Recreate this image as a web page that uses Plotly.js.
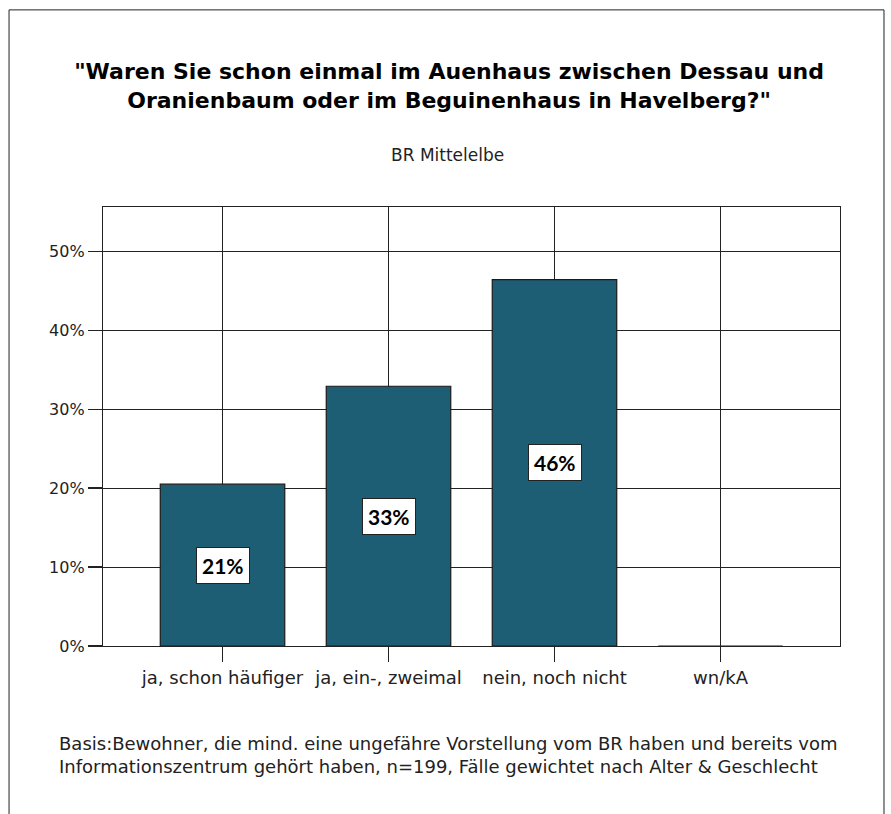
<!DOCTYPE html>
<html>
<head>
<meta charset="utf-8">
<script src="https://cdn.plot.ly/plotly-3.0.1.min.js"></script>
<style>
  html, body { margin: 0; padding: 0; background: #fff; }
  #chart { width: 891px; height: 814px; }
</style>
</head>
<body>
<div id="chart"></div>
<script>
const categories = ["ja, schon häufiger", "ja, ein-, zweimal", "nein, noch nicht", "wn/kA"];
const values = [20.5, 32.9, 46.4, 0];
const valueLabels = ["21%", "33%", "46%", ""];
const yTickVals = [0, 10, 20, 30, 40, 50];
const yTickText = ["0%", "10%", "20%", "30%", "40%", "50%"];
const titleText = "\"Waren Sie schon einmal im Auenhaus zwischen Dessau und<br>Oranienbaum oder im Beguinenhaus in Havelberg?\"";
const subtitleText = "BR Mittelelbe";
const footerText = "Basis:Bewohner, die mind. eine ungefähre Vorstellung vom BR haben und bereits vom<br>Informationszentrum gehört haben, n=199, Fälle gewichtet nach Alter &amp; Geschlecht";

const FONT = "'DejaVu Sans', sans-serif";
const LFONT = "Lato, sans-serif";
const barColor = "#1e5e74";

const trace = {
  type: "bar",
  x: categories,
  y: values,
  width: 0.75,
  marker: { color: barColor, line: { color: "#1a1a1a", width: 1.2 } },
  hoverinfo: "skip"
};

const annotations = [];
categories.forEach((c, i) => {
  if (valueLabels[i]) {
    annotations.push({
      x: c, y: values[i] / 2, xref: "x", yref: "y",
      text: "<b>" + valueLabels[i] + "</b>",
      showarrow: false,
      font: { family: LFONT, size: 21, color: "#000" },
      bgcolor: "#ffffff",
      bordercolor: "#222",
      borderwidth: 1,
      borderpad: 5
    });
  }
});
annotations.push({
  xref: "paper", yref: "paper", x: 0.467, y: 1.118, xanchor: "center", yanchor: "middle",
  text: subtitleText, showarrow: false,
  font: { family: FONT, size: 17, color: "#222" }
});
annotations.push({
  xref: "paper", yref: "paper", x: -0.062, y: -0.248, xanchor: "left", yanchor: "middle", align: "left",
  text: footerText, showarrow: false,
  font: { family: FONT, size: 18, color: "#222" }
});

const layout = {
  width: 891, height: 814,
  margin: { l: 103, r: 51, t: 207, b: 168, pad: 0 },
  paper_bgcolor: "#fff",
  plot_bgcolor: "#fff",
  showlegend: false,
  hovermode: false,
  title: {
    text: "<b>" + titleText + "</b>",
    x: 0.504, xref: "container", xanchor: "center",
    y: 0.903, yref: "container", yanchor: "top",
    font: { family: FONT, size: 22, color: "#000" }
  },
  xaxis: {
    type: "category",
    range: [-0.72, 3.72],
    showline: true, mirror: true, linecolor: "#222", linewidth: 1.2,
    showgrid: true, gridcolor: "#222", gridwidth: 1,
    ticks: "outside", ticklen: 15, tickcolor: "#222", tickwidth: 1.2,
    tickfont: { family: FONT, size: 18, color: "#222" },
    zeroline: false,
    fixedrange: true
  },
  yaxis: {
    range: [0, 55.6],
    tickvals: yTickVals, ticktext: yTickText,
    showline: true, mirror: true, linecolor: "#222", linewidth: 1.2,
    showgrid: true, gridcolor: "#222", gridwidth: 1,
    ticks: "outside", ticklen: 14, tickcolor: "#222", tickwidth: 1.2,
    tickfont: { family: FONT, size: 16, color: "#222" },
    zeroline: false,
    fixedrange: true
  },
  annotations: annotations,
  shapes: [{
    type: "rect", xref: "paper", yref: "paper",
    x0: -0.1275, x1: 1.0597, y0: -0.4, y1: 1.449,
    line: { color: "#222", width: 1 }, fillcolor: "rgba(0,0,0,0)", layer: "below"
  }]
};

Plotly.newPlot("chart", [trace], layout, { staticPlot: true, displayModeBar: false });
</script>
</body>
</html>
